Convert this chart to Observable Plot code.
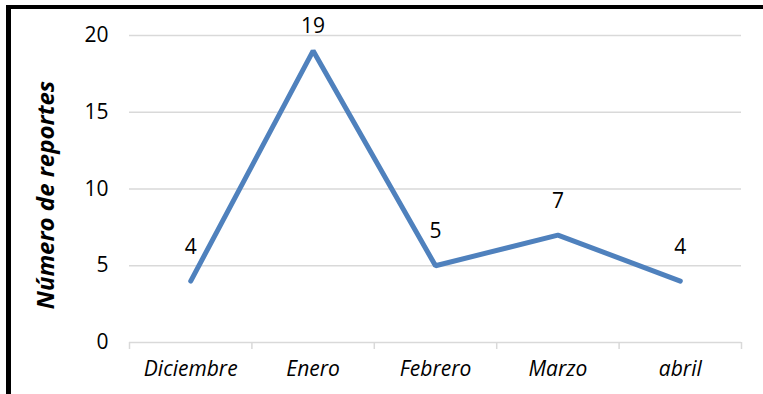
<!DOCTYPE html>
<html>
<head>
<meta charset="utf-8">
<script src="https://cdn.jsdelivr.net/npm/d3@7"></script>
<script src="https://cdn.jsdelivr.net/npm/@observablehq/plot@0.6"></script>
<style>
  html, body { margin: 0; padding: 0; background: #fff; }
  #wrap { position: relative; width: 763px; height: 394px; overflow: hidden; }
  #frame { position: absolute; left: 6px; top: 5px; width: 800px; height: 400px;
           border-left: 5px solid #000; border-top: 4px solid #000; pointer-events: none; box-sizing: border-box; }
</style>
</head>
<body>
<div id="wrap"><div id="frame"></div></div>
<script>
const months = ["Diciembre", "Enero", "Febrero", "Marzo", "abril"];
const reports = [4, 19, 5, 7, 4];
const yTicks = [0, 5, 10, 15, 20];
const yTitle = "Número de reportes";

const data = months.map((m, i) => ({i, month: m, value: reports[i]}));
const idx = d3.range(months.length);
const bounds = d3.range(months.length + 1).map(i => i - 0.5);
const font = "'Open Sans', sans-serif";
const grid = "#d9d9d9";

const chart = Plot.plot({
  width: 763,
  height: 394,
  marginLeft: 129,
  marginRight: 22,
  marginTop: 35,
  marginBottom: 52,
  style: {fontFamily: font, fontSize: "21px", color: "#000", background: "transparent"},
  x: {type: "linear", domain: [-0.5, months.length - 0.5]},
  y: {domain: [0, 20]},
  marks: [
    Plot.gridY(yTicks, {stroke: grid, strokeOpacity: 1, strokeWidth: 1.5}),
    Plot.axisY(yTicks, {tickSize: 0, tickPadding: 21, fontSize: 21, label: null}),
    Plot.axisX(bounds, {tickSize: 7, tickFormat: () => "", stroke: grid, strokeOpacity: 1, strokeWidth: 1.5, label: null}),
    Plot.axisX(idx, {tickSize: 0, tickPadding: 19, tickFormat: i => months[i], fontStyle: "italic", fontSize: 21, label: null}),
    Plot.line(data, {x: "i", y: "value", stroke: "#4f81bd", strokeWidth: 5, strokeLinejoin: "miter"}),
    Plot.text(data.filter(d => d.value < 15), {x: "i", y: "value", text: d => String(d.value), dy: -34, fontSize: 21, fill: "#000"}),
    Plot.text(data.filter(d => d.value >= 15), {x: "i", y: "value", text: d => String(d.value), dy: -25, fontSize: 21, fill: "#000"}),
    Plot.text([yTitle], {frameAnchor: "left", textAnchor: "middle", dx: -83, dy: 6, rotate: -90, fontSize: 24, fontWeight: "bold", fontStyle: "italic", fill: "#000"})
  ]
});
document.getElementById("wrap").insertBefore(chart, document.getElementById("frame"));
</script>
</body>
</html>
